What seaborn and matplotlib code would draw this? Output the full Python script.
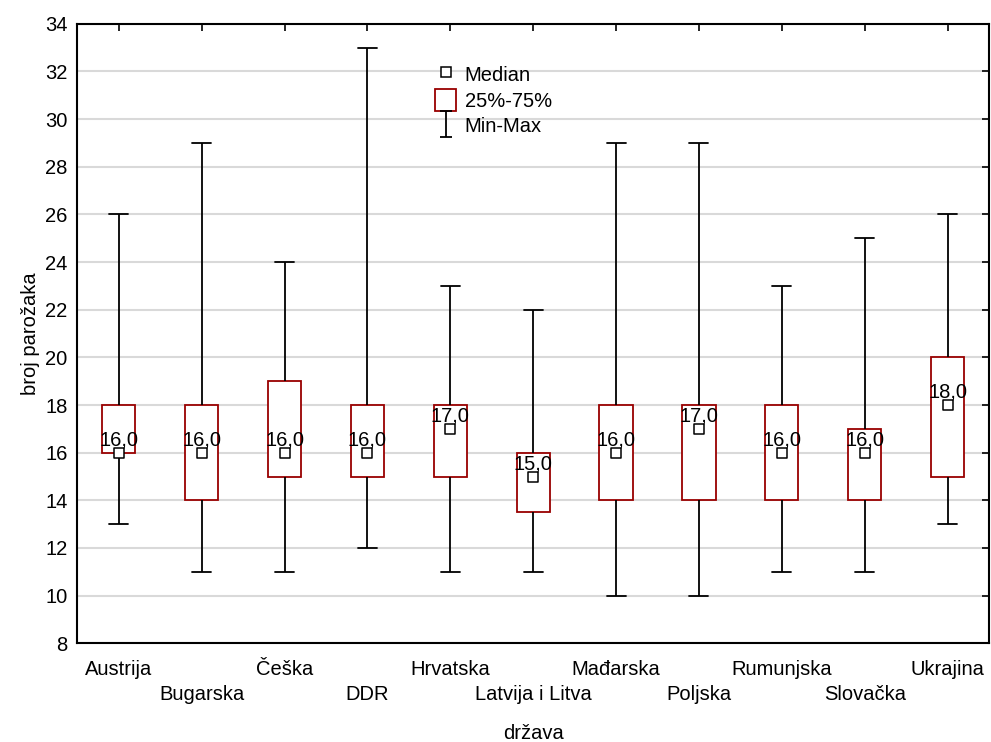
import numpy as np
import pandas as pd
import matplotlib.pyplot as plt
import seaborn as sns
from matplotlib.lines import Line2D
from matplotlib.patches import Patch
from matplotlib.path import Path

# values (min, q1, median, q3, max)
countries = ['Austrija', 'Bugarska', 'Češka', 'DDR', 'Hrvatska', 'Latvija i Litva',
             'Mađarska', 'Poljska', 'Rumunjska', 'Slovačka', 'Ukrajina']
mins = [13, 11, 11, 12, 11, 11, 10, 10, 11, 11, 13]
q1s = [16, 14, 15, 15, 15, 13.5, 14, 14, 14, 14, 15]
medians = [16, 16, 16, 16, 17, 15, 16, 17, 16, 16, 18]
q3s = [18, 18, 19, 18, 18, 16, 18, 18, 18, 17, 20]
maxs = [26, 29, 24, 33, 23, 22, 29, 29, 23, 25, 26]

# five points per country give exactly these quartiles with linear percentiles
rows = []
for c, a, b, m, d, e in zip(countries, mins, q1s, medians, q3s, maxs):
    for v in (a, b, m, d, e):
        rows.append({'država': c, 'broj parožaka': v})
df = pd.DataFrame(rows)

sns.set_style('white')
plt.rcParams['font.family'] = ['Liberation Sans', 'DejaVu Sans']
plt.rcParams['text.color'] = 'black'
plt.rcParams['axes.labelcolor'] = 'black'

fs = 14.5
fig, ax = plt.subplots(figsize=(9.91, 7.42), dpi=100)
fig.subplots_adjust(left=0.078, right=0.998, top=0.968, bottom=0.133)

box_red = '#990000'
sns.boxplot(data=df, x='država', y='broj parožaka', order=countries, ax=ax,
            whis=(0, 100), width=0.4, color='white', saturation=1, linewidth=1.3,
            linecolor=box_red, showfliers=False, capwidths=0.23,
            whiskerprops={'color': 'black', 'linewidth': 1.3},
            capprops={'color': 'black', 'linewidth': 1.3},
            medianprops={'visible': False})

pos = np.arange(len(countries))
sns.scatterplot(x=pos, y=medians, marker='s', s=45, color='white',
                edgecolor='black', linewidth=1.1, zorder=5, ax=ax)
for i, m in zip(pos, medians):
    ax.text(i, m + 0.3, f'{m:.1f}'.replace('.', ','), ha='center', va='baseline',
            fontsize=fs, zorder=6)

ax.set_xlim(-0.5, len(countries) - 0.5)
ax.set_ylim(8, 34)
ax.set_yticks(np.arange(8, 35, 2))
# alternate the category labels on two rows: even ones as major ticks, odd ones as minor
ax.set_xticks(pos[::2])
ax.set_xticklabels(countries[::2])
ax.set_xticks(pos[1::2], minor=True)
ax.set_xticklabels(countries[1::2], minor=True)
ax.yaxis.grid(True, color='#d9d9d9', linewidth=1.5, zorder=0)
ax.set_axisbelow(True)
for s in ax.spines.values():
    s.set_color('black')
    s.set_linewidth(1.5)
ax.tick_params(direction='in', top=True, right=True, length=5, width=1.2,
               labelsize=fs, colors='black')
ax.tick_params(axis='y', pad=7)
ax.tick_params(axis='x', which='major', pad=12)
ax.tick_params(axis='x', which='minor', direction='in', top=True, length=5, width=1.2,
               labelsize=fs, colors='black', pad=30)
ax.set_xlabel('država', fontsize=fs)
ax.xaxis.set_label_coords(0.5, -0.13)
ax.set_ylabel('broj parožaka', fontsize=fs, labelpad=4)

# legend
minmax = Path([(-0.45, 1), (0.45, 1), (0, 1), (0, -1), (-0.45, -1), (0.45, -1)],
              [Path.MOVETO, Path.LINETO, Path.MOVETO, Path.LINETO, Path.MOVETO, Path.LINETO])
handles = [
    Line2D([], [], marker='s', ls='none', mfc='white', mec='black', ms=6.5, mew=1.1),
    Patch(facecolor='white', edgecolor=box_red, linewidth=1.3),
    Line2D([], [], marker=minmax, ls='none', mfc='none', mec='black', ms=19, mew=1.3),
]
ax.legend(handles, ['Median', '25%-75%', 'Min-Max'], loc='upper left',
          bbox_to_anchor=(0.373, 0.965), frameon=False, fontsize=fs,
          handlelength=1.0, handleheight=1.3, handletextpad=0.45, labelspacing=0.18)

plt.savefig('out.png', dpi=100)
